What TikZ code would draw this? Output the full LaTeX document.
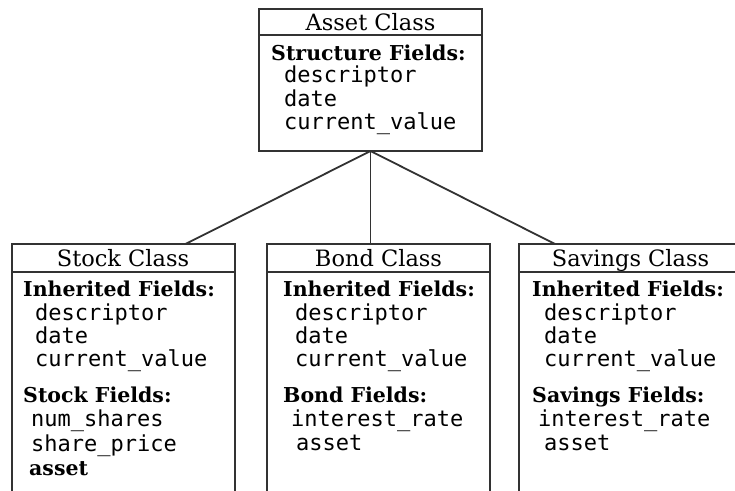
\documentclass[tikz,border=0pt]{standalone}
\usepackage{fontspec}
\setmainfont{DejaVu Serif}
\setmonofont{DejaVu Sans Mono}
\usetikzlibrary{positioning}
\definecolor{boxline}{RGB}{50, 50, 50}

\tikzset{
	classbox/.style = {draw = boxline, line width = 2pt, outer sep = 0pt, minimum width = 223pt, inner sep = 0pt, anchor = north},
	classtitle/.style = {inner sep = 0pt, text height = 17.5pt, text depth = 0pt, font = \fontsize{22.5}{22.5}\selectfont},
	fieldhead/.style = {anchor = west, inner sep = 0pt, text height = 7.5pt, text depth = 2.5pt, font = \fontsize{20.5}{20.5}\selectfont\bfseries},
	fieldname/.style = {anchor = west, inner sep = 0pt, text height = 7.5pt, text depth = 2.5pt, font = \fontsize{22}{22}\selectfont\ttfamily}
}

\begin{document}
\begin{tikzpicture}[x = 1pt, y = -1pt]
			\clip (0,0) rectangle (735,490);
			\fill[white] (0,0) rectangle (735,490);
			% class boxes
			\node (asset) at (370.5,9) [classbox, minimum height = 142pt] {};
			\node (stock) at (123,244) [classbox, minimum height = 260pt] {};
			\node (bond) at (378.5,244) [classbox, minimum height = 260pt] {};
			\node (sav) at (630.5,244) [classbox, minimum height = 260pt] {};
			\draw[boxline, line width = 2pt] ([yshift = -26pt]asset.north west) -- ([yshift = -26pt]asset.north east);
			\foreach \nm in {stock, bond, sav}
				\draw[boxline, line width = 2pt] ([yshift = -28pt]\nm.north west) -- ([yshift = -28pt]\nm.north east);
			% class titles
			\node (assetT) at ([yshift = -13pt]asset.north) [classtitle] {Asset Class};
			\node (stockT) at ([yshift = -14pt]stock.north) [classtitle] {Stock Class};
			\node (bondT) at ([yshift = -14pt]bond.north) [classtitle] {Bond Class};
			\node (savT) at ([yshift = -14pt]sav.north) [classtitle] {Savings Class};
			% asset fields
			\node (asset-h) at (271,58) [fieldhead] {Structure Fields:};
			\node (asset-d1) at (284,80) [fieldname] {descriptor};
			\node (asset-d2) at (284,104) [fieldname] {date};
			\node (asset-d3) at (284,127) [fieldname] {current\_value};
			% inherited fields
			\foreach \x/\nm in {23/stock, 283/bond, 532/sav} {
				\node (\nm-h) at (\x,294) [fieldhead] {Inherited Fields:};
				\node (\nm-d1) at (\x+12,318) [fieldname] {descriptor};
				\node (\nm-d2) at (\x+12,341) [fieldname] {date};
				\node (\nm-d3) at (\x+12,364) [fieldname] {current\_value};
			}
			% own fields
			\node (stock-o) at (23,400) [fieldhead] {Stock Fields:};
			\node (stock-o1) at (31,424) [fieldname] {num\_shares};
			\node (stock-o2) at (31,449) [fieldname] {share\_price};
			\node (stock-o3) at (29,473) [fieldhead] {asset};
			\node (bond-o) at (283,400) [fieldhead] {Bond Fields:};
			\node (bond-o1) at (291,424) [fieldname] {interest\_rate};
			\node (bond-o2) at (296,448) [fieldname] {asset};
			\node (sav-o) at (532,400) [fieldhead] {Savings Fields:};
			\node (sav-o1) at (538,424) [fieldname] {interest\_rate};
			\node (sav-o2) at (544,448) [fieldname] {asset};
			% inheritance lines
			\draw[boxline, line width = 1.8pt] (asset.south) -- ([xshift = -49pt]stock.north east);
			\draw[boxline, line width = 1.8pt] (asset.south) -- (asset.south |- bond.north);
			\draw[boxline, line width = 1.8pt] (asset.south) -- ([xshift = 36pt]sav.north west);
			\end{tikzpicture}
\end{document}
